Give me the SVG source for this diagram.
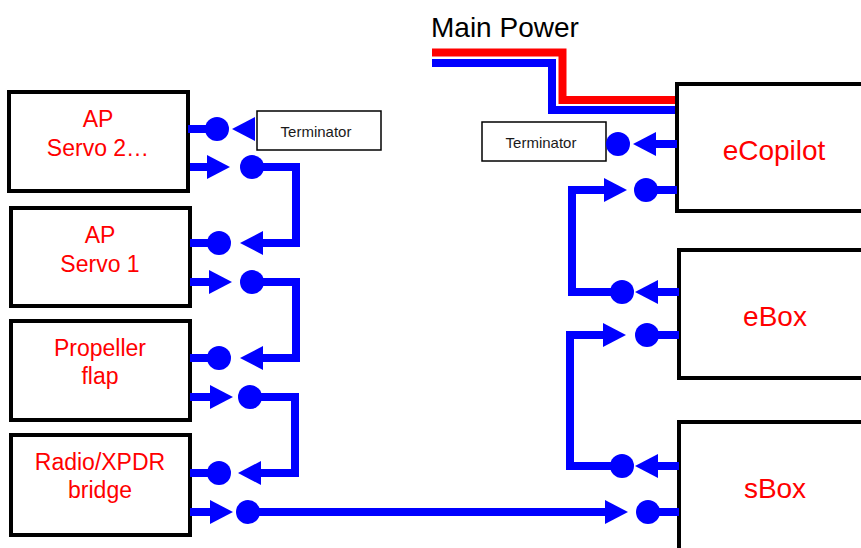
<svg xmlns="http://www.w3.org/2000/svg" xmlns:xlink="http://www.w3.org/1999/xlink" width="861" height="548" viewBox="0 0 861 548">
<style>
.box{fill:#fff;stroke:#000;stroke-width:4}
.term{fill:#fff;stroke:#000;stroke-width:1.5}
.lbl{font-family:"Liberation Sans",Arial,sans-serif;font-size:23px;fill:#f00;text-anchor:middle}
.big{font-family:"Liberation Sans",Arial,sans-serif;font-size:28px;fill:#f00;text-anchor:middle}
.tlbl{font-family:"Liberation Sans",Arial,sans-serif;font-size:15px;fill:#1a1a1a;text-anchor:middle}
.title{font-family:"Liberation Sans",Arial,sans-serif;font-size:28px;fill:#000}
.wire{fill:none;stroke:#00f;stroke-width:8}
.pwr-r{fill:none;stroke:#f00;stroke-width:8}
.pwr-b{fill:none;stroke:#00f;stroke-width:8}
.dot{fill:#00f}
.ah{fill:#00f}
</style>
<defs>
<polygon id="ar" class="ah" points="0,-12 23,0 0,12"/>
<polygon id="al" class="ah" points="0,-12 -23,0 0,12"/>
</defs>

<text class="title" x="431" y="37">Main Power</text>

<g id="power">
<path class="pwr-r" d="M432,52.5 H562.5 V100 H675"/>
<path class="pwr-b" d="M432,63 H552 V110 H675"/>
</g>

<g id="ap-servo-2">
<rect class="box" x="9" y="92" width="179" height="99"/>
<text class="lbl" x="98" y="127">AP</text>
<text class="lbl" x="98" y="156">Servo 2…</text>
</g>
<g id="ap-servo-1">
<rect class="box" x="11" y="208" width="179" height="98"/>
<text class="lbl" x="100" y="243">AP</text>
<text class="lbl" x="100" y="272">Servo 1</text>
</g>
<g id="propeller-flap">
<rect class="box" x="11" y="321" width="179" height="99"/>
<text class="lbl" x="100" y="356">Propeller</text>
<text class="lbl" x="100" y="384">flap</text>
</g>
<g id="radio-xpdr-bridge">
<rect class="box" x="11" y="435" width="179" height="100"/>
<text class="lbl" x="100" y="470">Radio/XPDR</text>
<text class="lbl" x="100" y="498">bridge</text>
</g>

<g id="terminator-left">
<rect class="term" x="257" y="111" width="124" height="39"/>
<text class="tlbl" x="316" y="137">Terminator</text>
</g>
<g id="terminator-right">
<rect class="term" x="482" y="122" width="124" height="39"/>
<text class="tlbl" x="541" y="148">Terminator</text>
</g>

<g id="ecopilot">
<rect class="box" x="677" y="84" width="220" height="127"/>
<text class="big" x="774" y="160">eCopilot</text>
</g>
<g id="ebox">
<rect class="box" x="679" y="250" width="220" height="128"/>
<text class="big" x="775" y="326">eBox</text>
</g>
<g id="sbox">
<rect class="box" x="679" y="422" width="220" height="200"/>
<text class="big" x="775" y="498">sBox</text>
</g>

<g id="connectors">
<!-- AP Servo 2 -->
<path class="wire" d="M188,129 H217"/>
<circle class="dot" cx="217" cy="129" r="12"/>
<use xlink:href="#al" href="#al" x="255" y="129"/>
<path class="wire" d="M190,167 H208"/>
<use xlink:href="#ar" href="#ar" x="207" y="167"/>
<circle class="dot" cx="252" cy="167" r="12"/>
<path class="wire" d="M252,167 H296 V243 H262"/>
<use xlink:href="#al" href="#al" x="263" y="243"/>
<!-- AP Servo 1 -->
<path class="wire" d="M190,243 H219"/>
<circle class="dot" cx="219" cy="243" r="12"/>
<path class="wire" d="M190,282 H210"/>
<use xlink:href="#ar" href="#ar" x="209" y="282"/>
<circle class="dot" cx="252" cy="282" r="12"/>
<path class="wire" d="M252,282 H296 V358 H262"/>
<use xlink:href="#al" href="#al" x="263" y="358"/>
<!-- Propeller flap -->
<path class="wire" d="M190,358 H219"/>
<circle class="dot" cx="219" cy="358" r="12"/>
<path class="wire" d="M190,397 H211"/>
<use xlink:href="#ar" href="#ar" x="210" y="397"/>
<circle class="dot" cx="250" cy="397" r="12"/>
<path class="wire" d="M250,397 H295 V473 H260"/>
<use xlink:href="#al" href="#al" x="261" y="473"/>
<!-- Radio/XPDR bridge -->
<path class="wire" d="M190,473 H219"/>
<circle class="dot" cx="219" cy="473" r="12"/>
<path class="wire" d="M190,512 H211"/>
<use xlink:href="#ar" href="#ar" x="210" y="512"/>
<circle class="dot" cx="248" cy="512" r="12"/>
<path class="wire" d="M248,512 H606"/>
<use xlink:href="#ar" href="#ar" x="605" y="512"/>
<circle class="dot" cx="648" cy="512" r="12"/>
<path class="wire" d="M648,512 H679"/>
<!-- eCopilot -->
<path class="wire" d="M677,144 H655"/>
<use xlink:href="#al" href="#al" x="656" y="144"/>
<circle class="dot" cx="618" cy="144" r="12"/>
<circle class="dot" cx="646" cy="190" r="12"/>
<path class="wire" d="M646,190 H677"/>
<path class="wire" d="M605,190 H572 V292 H622"/>
<use xlink:href="#ar" href="#ar" x="604" y="190"/>
<!-- eBox -->
<path class="wire" d="M679,292 H657"/>
<use xlink:href="#al" href="#al" x="658" y="292"/>
<circle class="dot" cx="622" cy="292" r="12"/>
<circle class="dot" cx="647" cy="335" r="12"/>
<path class="wire" d="M647,335 H679"/>
<path class="wire" d="M604,335 H570 V466 H622"/>
<use xlink:href="#ar" href="#ar" x="603" y="335"/>
<!-- sBox -->
<path class="wire" d="M679,466 H657"/>
<use xlink:href="#al" href="#al" x="658" y="466"/>
<circle class="dot" cx="622" cy="466" r="12"/>
</g>
</svg>
